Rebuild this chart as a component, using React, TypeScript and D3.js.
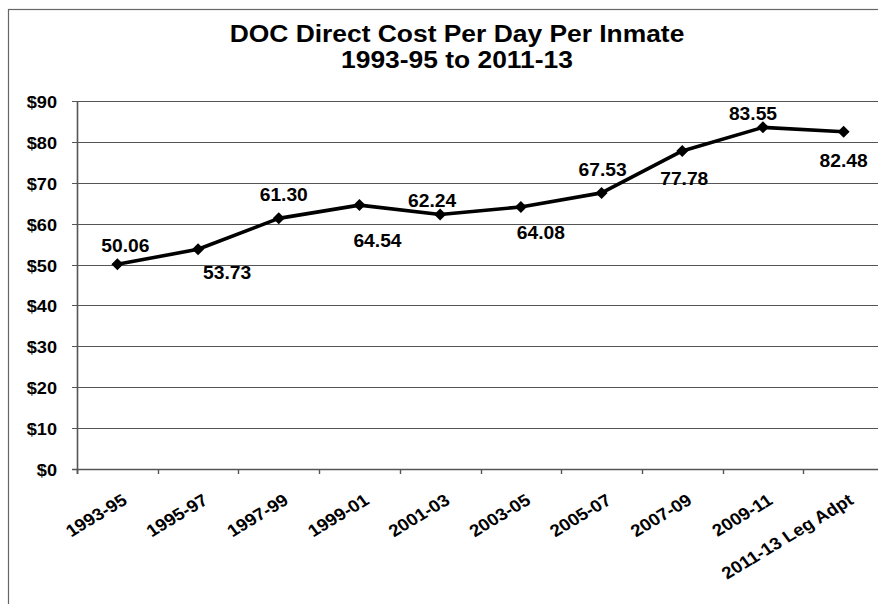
import React from "react";
import * as d3 from "d3";

const categories = [
  "1993-95",
  "1995-97",
  "1997-99",
  "1999-01",
  "2001-03",
  "2003-05",
  "2005-07",
  "2007-09",
  "2009-11",
  "2011-13 Leg Adpt",
];
const values = [50.06, 53.73, 61.3, 64.54, 62.24, 64.08, 67.53, 77.78, 83.55, 82.48];
const valueLabels = ["50.06", "53.73", "61.30", "64.54", "62.24", "64.08", "67.53", "77.78", "83.55", "82.48"];
const yTicks = [0, 10, 20, 30, 40, 50, 60, 70, 80, 90];
const titleLines = ["DOC Direct Cost Per Day Per Inmate", "1993-95 to 2011-13"];

// label placement (offset from point: dx, baseline dy)
const labelOffsets: [number, number][] = [
  [8, -12],
  [29, 30],
  [5, -17],
  [18, 42],
  [-8, -8],
  [20, 32],
  [1, -17],
  [2, 34],
  [-10, -7],
  [0, 35],
];

const W = 878;
const H = 604;
const FONT = "'Liberation Sans', Arial, Helvetica, sans-serif";
const SX = 1.1;

export default function App() {
  const x = d3.scaleBand<string>().domain(categories).range([77, 884]).paddingInner(0).paddingOuter(0);
  const y = d3.scaleLinear().domain([0, 90]).range([469, 101]);
  const cx = (i: number) => (x(categories[i]) as number) + x.bandwidth() / 2;

  const line = d3
    .line<number>()
    .x((_, i) => cx(i))
    .y((d) => y(d));

  const gridColor = "#555";

  return (
    <svg
      width={W}
      height={H}
      style={{ position: "absolute", left: 0, top: 0, background: "#fff" }}
      fontFamily={FONT}
    >
      <rect x={0} y={0} width={W} height={H} fill="#fff" />
      {/* outer frame */}
      <rect x={8.5} y={9.5} width={1000} height={1000} fill="none" stroke="#666" strokeWidth={1.2} />

      {/* title */}
      {titleLines.map((t, i) => (
        <text
          key={t}
          transform={`translate(457, ${42 + i * 26}) scale(${SX},1)`}
          textAnchor="middle"
          fontSize={24}
          fontWeight="bold"
          fill="#000"
        >
          {t}
        </text>
      ))}

      {/* gridlines and y labels */}
      {yTicks.map((t) => (
        <g key={t}>
          <line x1={72} x2={900} y1={Math.round(y(t)) + 0.5} y2={Math.round(y(t)) + 0.5} stroke={gridColor} strokeWidth={t === 0 ? 1.6 : 1} />
          <text
            transform={`translate(57, ${Math.round(y(t)) + 7}) scale(${SX},1)`}
            textAnchor="end"
            fontSize={16.5}
            fontWeight="bold"
            fill="#000"
          >
            {`$${t}`}
          </text>
        </g>
      ))}

      {/* y axis line */}
      <line x1={77.5} x2={77.5} y1={y(90)} y2={y(0) + 5} stroke={gridColor} strokeWidth={1.6} />

      {/* x ticks */}
      {categories.map((c) => (
        <line
          key={c}
          x1={Math.round(x(c) as number) + 0.5}
          x2={Math.round(x(c) as number) + 0.5}
          y1={y(0)}
          y2={y(0) + 5}
          stroke={gridColor}
          strokeWidth={1.4}
        />
      ))}

      {/* x labels */}
      {categories.map((c, i) => (
        <text
          key={c}
          transform={`translate(${cx(i) + 11}, 503) scale(${SX},1) rotate(-33.5)`}
          textAnchor="end"
          fontSize={17}
          fontWeight="bold"
          fill="#000"
        >
          {c}
        </text>
      ))}

      {/* line */}
      <path d={line(values) as string} fill="none" stroke="#000" strokeWidth={3.6} strokeLinejoin="round" />

      {/* markers */}
      {values.map((v, i) => {
        const px = cx(i);
        const py = y(v);
        const r = 6;
        return (
          <path
            key={i}
            d={`M${px},${py - r}L${px + r},${py}L${px},${py + r}L${px - r},${py}Z`}
            fill="#000"
          />
        );
      })}

      {/* data labels */}
      {values.map((v, i) => (
        <text
          key={i}
          transform={`translate(${cx(i) + labelOffsets[i][0]}, ${y(v) + labelOffsets[i][1]}) scale(${SX},1)`}
          textAnchor="middle"
          fontSize={17.5}
          fontWeight="bold"
          fill="#000"
        >
          {valueLabels[i]}
        </text>
      ))}
    </svg>
  );
}
